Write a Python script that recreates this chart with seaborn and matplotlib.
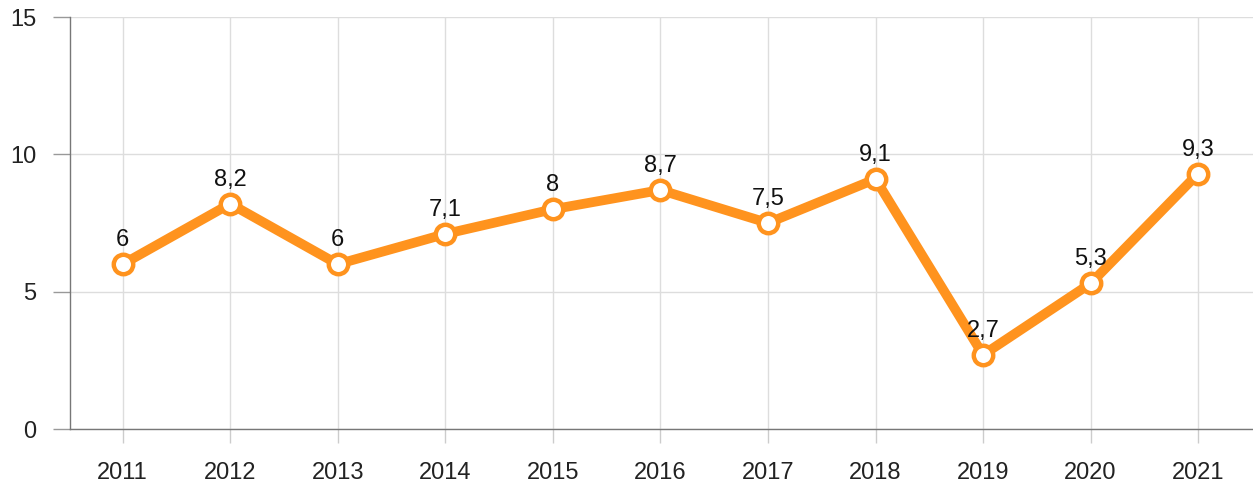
import matplotlib
matplotlib.use("Agg")
import pandas as pd
import seaborn as sns
from matplotlib import pyplot as plt

years = ["2011", "2012", "2013", "2014", "2015", "2016", "2017", "2018", "2019", "2020", "2021"]
values = [6, 8.2, 6, 7.1, 8, 8.7, 7.5, 9.1, 2.7, 5.3, 9.3]
yticks = [0, 5, 10, 15]

sns.set_style("white")
plt.rcParams["font.family"] = ["Liberation Sans", "DejaVu Sans"]

df = pd.DataFrame({"year": years, "value": values})
orange = "#FF931E"
fs = 17

fig = plt.figure(figsize=(12.53, 4.91), dpi=100)
ax = fig.add_axes([70 / 1253, 62 / 491, 1183 / 1253, 412 / 491])

sns.lineplot(data=df, x="year", y="value", ax=ax, color=orange, linewidth=7,
             marker="o", markersize=14, markerfacecolor="white",
             markeredgecolor=orange, markeredgewidth=3.2, sort=False)

# value labels, decimal comma
for i, v in enumerate(values):
    lbl = f"{v:g}".replace(".", ",")
    ax.annotate(lbl, (i, v), xytext=(0, 18), textcoords="offset pixels",
                ha="center", va="baseline", fontsize=fs, color="#111111")

ax.set_xlim(-0.49, 10.51)
ax.set_ylim(0, 15)
ax.set_yticks(yticks)
ax.set_xlabel("")
ax.set_ylabel("")

ax.grid(True, color="#dddddd", linewidth=1)
ax.set_axisbelow(True)
for s in ["top", "right"]:
    ax.spines[s].set_visible(False)
for s in ["left", "bottom"]:
    ax.spines[s].set_color("#777777")
    ax.spines[s].set_linewidth(1)

ax.tick_params(axis="y", length=12, width=1, color="#999999", labelsize=fs,
               labelcolor="#222222", pad=12, left=True)
ax.tick_params(axis="x", length=10, width=1, color="#cccccc", labelsize=fs,
               labelcolor="#222222", pad=14, bottom=True)

fig.savefig("out.png", dpi=100)
